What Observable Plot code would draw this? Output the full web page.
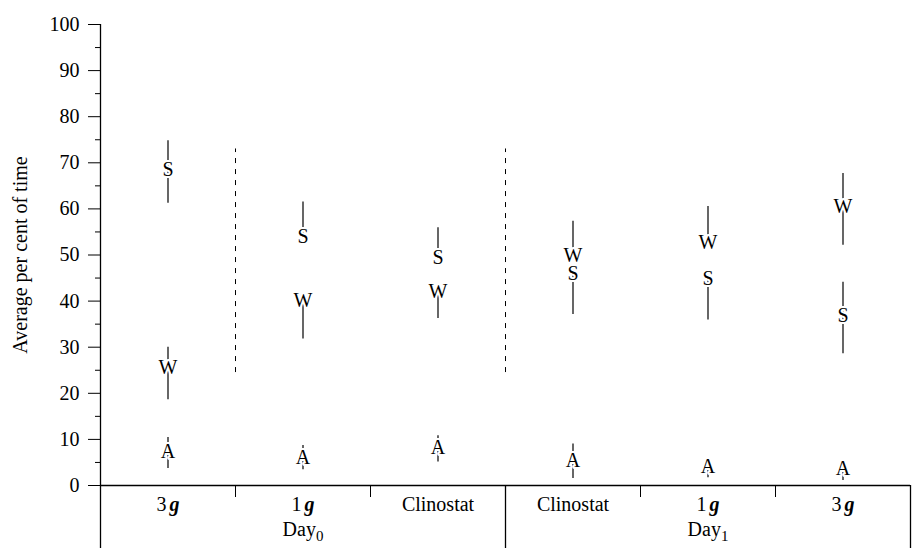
<!DOCTYPE html>
<html>
<head>
<meta charset="utf-8">
<script src="https://cdn.jsdelivr.net/npm/d3@7"></script>
<script src="https://cdn.jsdelivr.net/npm/@observablehq/plot@0.6"></script>
<style>
  html, body { margin: 0; padding: 0; background: #fff; }
</style>
</head>
<body>
<div id="chart"></div>
<script>
// ---- data ----
const categories = ["3g", "1g", "Clinostat", "Clinostat", "1g", "3g"];
const days = ["Day0", "Day1"];
const behaviours = ["S", "W", "A"];

const sMean = [68.5, 54.0, 49.5, 45.9, 44.8, 36.9];
const sLow  = [61.2, 54.0, 49.5, 37.1, 35.9, 28.6];
const sHigh = [74.8, 61.5, 55.9, 45.9, 44.8, 44.1];

const wMean = [25.5, 40.1, 42.1, 49.9, 52.6, 60.4];
const wLow  = [18.6, 31.8, 36.2, 49.9, 52.6, 52.1];
const wHigh = [30.0, 40.1, 42.1, 57.3, 60.5, 67.7];

const aMean = [7.4, 6.1, 8.2, 5.4, 4.0, 3.6];
const aLow  = [3.7, 3.4, 5.1, 1.5, 1.7, 1.1];
const aHigh = [10.4, 8.7, 10.8, 9.0, 5.5, 5.5];

const yTicks = [0, 10, 20, 30, 40, 50, 60, 70, 80, 90, 100];
const yMinorTicks = [5, 15, 25, 35, 45, 55, 65, 75, 85, 95];
const separators = [1, 3];          // category boundaries with dashed lines
const separatorRange = [24.5, 73];  // extent of the dashed lines

// ---- build table ----
const series = {S: [sMean, sLow, sHigh], W: [wMean, wLow, wHigh], A: [aMean, aLow, aHigh]};
const points = [];
behaviours.forEach(b => {
  const [m, lo, hi] = series[b];
  categories.forEach((c, i) => points.push({b, x: i + 0.5, mean: m[i], lo: lo[i], hi: hi[i]}));
});
const catPos = categories.map((_, i) => i + 0.5);
const dayPos = days.map((_, i) => i * 3 + 1.5);
const catEdges = d3.range(0, categories.length + 1);
const dayEdges = [0, 3, 6];
const innerEdges = catEdges.filter(e => !dayEdges.includes(e));

const FS = 20;
const SERIF = "Liberation Serif";

function draw() {
  const chart = Plot.plot({
    width: 917,
    height: 548,
    marginLeft: 100,
    marginRight: 7,
    marginTop: 24,
    marginBottom: 63,
    style: {fontFamily: SERIF, fontSize: FS + "px"},
    x: {domain: [0, 6], axis: null},
    y: {domain: [0, 100], axis: null},
    marks: [
      // y axis: major + minor ticks, label
      Plot.axisY(yTicks, {tickSize: 12, tickPadding: 9, fontSize: FS, label: null}),
      Plot.axisY(yMinorTicks, {tickSize: 5, tickFormat: () => "", label: null}),
      Plot.text(["Average per cent of time"], {frameAnchor: "left", textAnchor: "middle", rotate: -90, dx: -80, fontSize: FS, fontFamily: SERIF}),
      Plot.ruleX([0], {stroke: "#000", strokeWidth: 1.3}),
      Plot.ruleY([0], {stroke: "#000", strokeWidth: 1.3}),
      // table below the axis
      Plot.axisX(dayEdges, {tickSize: 63, tickFormat: () => "", strokeWidth: 1.3, label: null}),
      Plot.axisX(innerEdges, {tickSize: 12, tickFormat: () => "", label: null}),
      Plot.axisX(catPos, {tickSize: 0, tickPadding: 11, fontSize: FS, tickFormat: d => categories[Math.floor(d)], label: null}),
      Plot.axisX(dayPos, {tickSize: 0, tickPadding: 36, fontSize: FS, tickFormat: d => days[Math.floor(d / 3)], label: null}),
      // dashed separators
      Plot.ruleX(separators, {y1: separatorRange[0], y2: separatorRange[1], stroke: "#000", strokeDasharray: "5,6"}),
      // error bars
      Plot.ruleX(points, {x: "x", y1: "lo", y2: "hi", stroke: "#000", strokeWidth: 1.2}),
      // letters
      Plot.text(points, {x: "x", y: "mean", text: "b", fill: "#000", stroke: "#fff", strokeWidth: 4, paintOrder: "stroke", fontSize: FS, fontFamily: SERIF})
    ]
  });

  // rich text for tick labels: bold italic g, subscript day index
  chart.querySelectorAll("text").forEach(t => {
    const s = t.textContent;
    let m;
    if ((m = /^(\d)g$/.exec(s))) {
      t.textContent = m[1];
      const ts = document.createElementNS("http://www.w3.org/2000/svg", "tspan");
      ts.setAttribute("dx", "3");
      ts.setAttribute("font-weight", "bold");
      ts.setAttribute("font-style", "italic");
      ts.textContent = "g";
      t.appendChild(ts);
    } else if ((m = /^Day(\d)$/.exec(s))) {
      t.textContent = "Day";
      const ts = document.createElementNS("http://www.w3.org/2000/svg", "tspan");
      ts.setAttribute("dy", "5");
      ts.setAttribute("font-size", "15");
      ts.textContent = m[1];
      t.appendChild(ts);
    }
  });

  const host = document.getElementById("chart");
  host.replaceChildren(chart);
}

draw();
// redraw once the serif face is ready, in case it was not yet available
if (document.fonts && document.fonts.load) {
  document.fonts.load(FS + 'px "' + SERIF + '"').then(draw).catch(() => {});
  document.fonts.ready.then(draw).catch(() => {});
}
</script>
</body>
</html>
